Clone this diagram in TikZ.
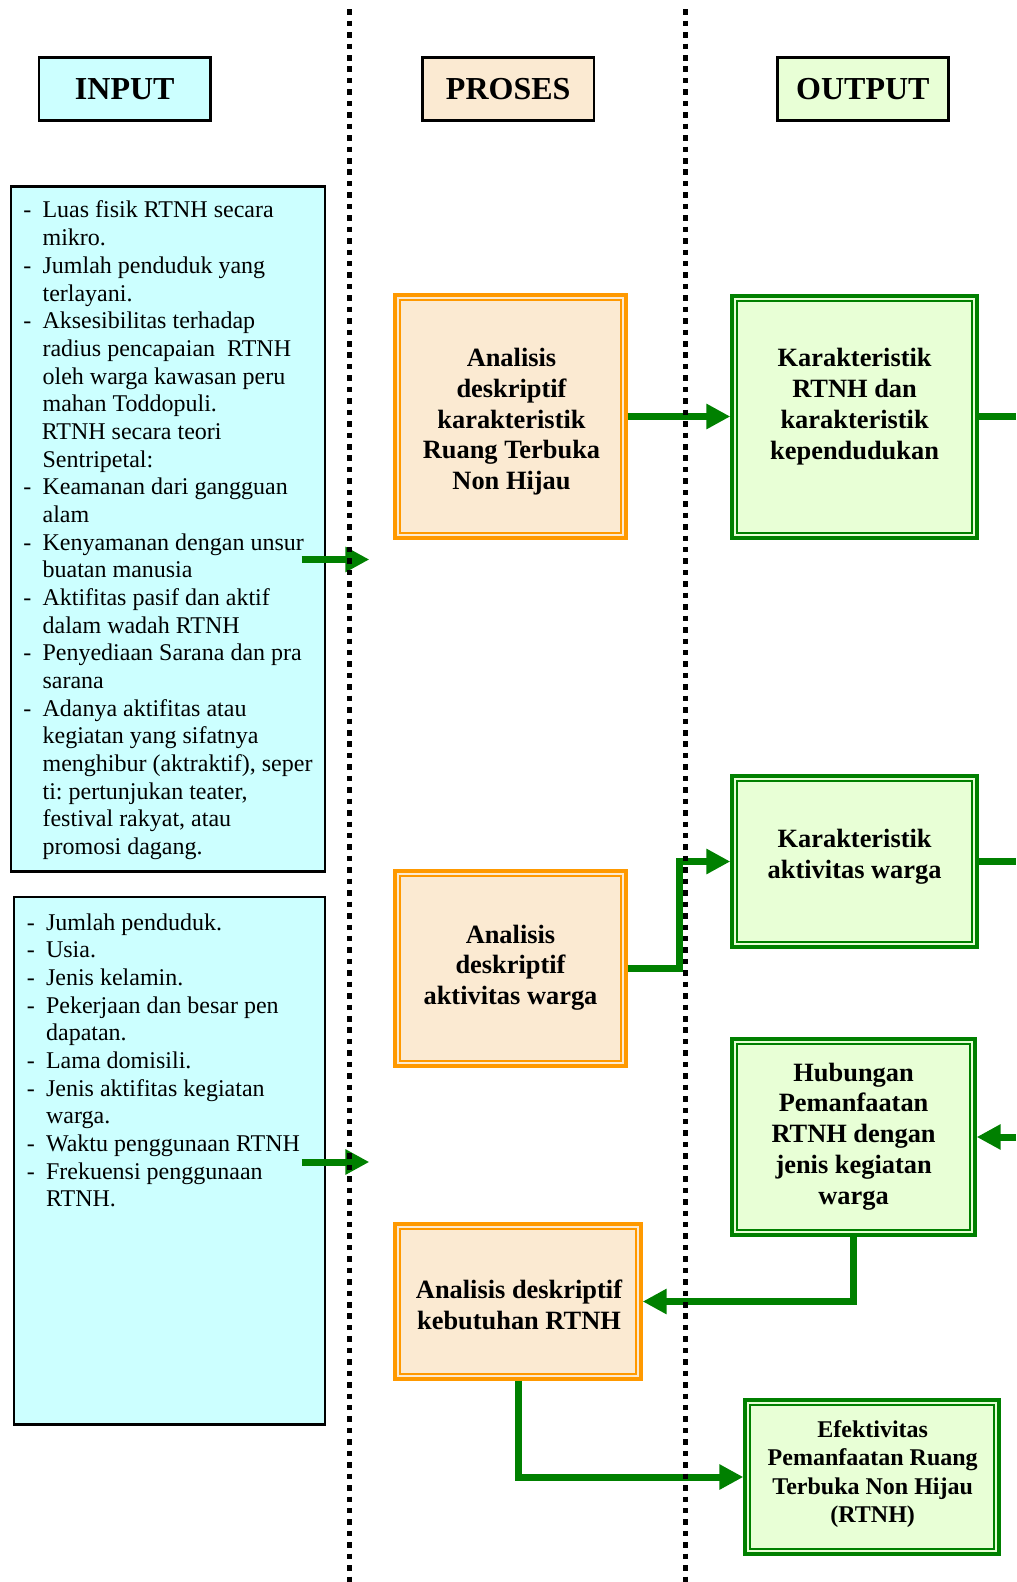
\documentclass[tikz,border=0pt]{standalone}
\usepackage{fontspec}
\setmainfont{Liberation Serif}
\usetikzlibrary{arrows.meta}
\definecolor{incyan}{HTML}{CCFFFF}
\definecolor{prfill}{HTML}{FBEAD2}
\definecolor{outfill}{HTML}{E8FFD6}
\definecolor{dgreen}{HTML}{008000}
\definecolor{orng}{HTML}{FF9900}
\newcommand\dl{\makebox[9.6pt][l]{-}}
\newcommand\ind{\hspace*{9.6pt}}
\frenchspacing
\begin{document}
\begin{tikzpicture}[x=0.5pt,y=-0.5pt,
 hdr/.style={draw=black,line width=1.35pt,minimum height=31.5pt,minimum width=85.65pt,inner sep=0pt,font=\fontsize{16}{19}\selectfont\bfseries},
 inbox/.style={draw=black,line width=1.35pt,fill=incyan,inner sep=0pt},
 prbox/.style={draw=orng,line width=1.7pt,fill=prfill,inner sep=0pt},
 outbox/.style={draw=dgreen,line width=1.7pt,fill=outfill,inner sep=0pt},
 btxt/.style={align=center,inner sep=0pt,font=\fontsize{13.2}{15.4}\selectfont\bfseries},
 stxt/.style={align=center,inner sep=0pt,font=\fontsize{12}{14.1}\selectfont\bfseries},
 ltxt/.style={anchor=base west,inner sep=0pt,font=\fontsize{12}{13.84}\selectfont},
 flow/.style={draw=dgreen,line width=3.5pt,-{Triangle[length=12pt,width=12pt]}},
 flowline/.style={draw=dgreen,line width=3.5pt},
 sep/.style={draw=black,line width=2.75pt,dash pattern=on 2.75pt off 2.97pt}
]
\useasboundingbox (0,0) rectangle (1016,1582);

% headers
\node[hdr,fill=incyan] (hin) at (124.75,89) {INPUT};
\node[hdr,fill=prfill] (hpr) at (508.2,89) {PROSES};
\node[hdr,fill=outfill] (hout) at (862.9,89) {OUTPUT};

% input boxes
\node[inbox,minimum width=157pt,minimum height=342.5pt] (in1) at (168,529) {};
\node[inbox,minimum width=155.5pt,minimum height=263.75pt] (in2) at (169.5,1160.75) {};

\node[ltxt] (in1t) at (23,218) {\begin{tabular}[t]{@{}l@{}}
\dl Luas fisik RTNH secara\\
\ind mikro.\\
\dl Jumlah penduduk yang\\
\ind terlayani.\\
\dl Aksesibilitas terhadap\\
\ind radius pencapaian~ RTNH\\
\ind oleh warga kawasan peru\\
\ind mahan Toddopuli.\\
\hspace*{9.2pt}RTNH secara teori\\
\ind Sentripetal:\\
\dl Keamanan dari gangguan\\
\ind alam\\
\dl Kenyamanan dengan unsur\\
\ind buatan manusia\\
\dl Aktifitas pasif dan aktif\\
\ind dalam wadah RTNH\\
\dl Penyediaan Sarana dan pra\\
\ind sarana\\
\dl Adanya aktifitas atau\\
\ind kegiatan yang sifatnya\\
\ind menghibur (aktraktif), seper\\
\ind ti: pertunjukan teater,\\
\ind festival rakyat, atau\\
\ind promosi dagang.
\end{tabular}};

\node[ltxt] (in2t) at (26.5,930) {\begin{tabular}[t]{@{}l@{}}
\dl Jumlah penduduk.\\
\dl Usia.\\
\dl Jenis kelamin.\\
\dl Pekerjaan dan besar pen\\
\ind dapatan.\\
\dl Lama domisili.\\
\dl Jenis aktifitas kegiatan\\
\ind warga.\\
\dl Waktu penggunaan RTNH\\
\dl Frekuensi penggunaan\\
\ind RTNH.
\end{tabular}};

% process boxes
\node[prbox,minimum width=115.5pt,minimum height=121.5pt] (p1) at (510.5,416.5) {};
\node[prbox,minimum width=115.5pt,minimum height=97.5pt] (p2) at (510.5,968.5) {};
\node[prbox,minimum width=123pt,minimum height=77.5pt] (p3) at (518,1301.5) {};
% output boxes
\node[outbox,minimum width=122.5pt,minimum height=121pt] (o1) at (854.5,417) {};
\node[outbox,minimum width=122.5pt,minimum height=85.5pt] (o2) at (854.5,861.5) {};
\node[outbox,minimum width=121.5pt,minimum height=98pt] (o3) at (853.5,1137) {};
\node[outbox,minimum width=127pt,minimum height=77pt] (o4) at (872,1477) {};

% inner lines of double borders
\foreach \n/\c in {p1/orng,p2/orng,p3/orng,o1/dgreen,o2/dgreen,o3/dgreen,o4/dgreen}
  \draw[\c,line width=1.3pt] ([shift={(3.35pt,-3.35pt)}]\n.north west) rectangle ([shift={(-3.35pt,3.35pt)}]\n.south east);

% box texts
\node[btxt] (p1t) at (511.5,421.7) {Analisis\\deskriptif\\karakteristik\\Ruang Terbuka\\Non Hijau};
\node[btxt] (p2t) at (510.5,967.6) {Analisis\\deskriptif\\aktivitas warga};
\node[btxt] (p3t) at (519,1305) {Analisis deskriptif\\kebutuhan RTNH};
\node[btxt] (o1t) at (854.6,406.6) {Karakteristik\\RTNH dan\\karakteristik\\kependudukan};
\node[btxt] (o2t) at (854.6,856.6) {Karakteristik\\aktivitas warga};
\node[btxt] (o3t) at (853.6,1136.5) {Hubungan\\Pemanfaatan\\RTNH dengan\\jenis kegiatan\\warga};
\node[stxt] (o4t) at (872.7,1474) {Efektivitas\\Pemanfaatan Ruang\\Terbuka Non Hijau\\(RTNH)};

% connectors
\coordinate (a1s) at (301.7,559.5);
\coordinate (a1e) at (369.3,559.5);
\coordinate (a2s) at (301.7,1162);
\coordinate (a2e) at (369.3,1162);
\coordinate (b2) at (679.5,968.5);
\coordinate (e1) at (1016,417);
\coordinate (e2) at (1016,861.5);
\coordinate (e3) at (1016,1137);
\draw[flow] (a1s) -- (a1e);
\draw[flow] (a2s) -- (a2e);
\draw[flow] (p1.east) -- (p1.east -| o1.west);
\draw[flowline] (o1.east) -- (e1);
\draw[flow] (p2.east) -- (b2) |- (o2.west);
\draw[flowline] (o2.east) -- (e2);
\draw[flow] (e3) -- (o3.east);
\draw[flow] (o3.south) |- (p3.east);
\draw[flow] (p3.south) |- (o4.west);

% separators
\coordinate (s1a) at (349.3,9.3);
\coordinate (s1b) at (349.3,1582);
\coordinate (s2a) at (685.3,9.3);
\coordinate (s2b) at (685.3,1582);
\draw[sep] (s1a) -- (s1b);
\draw[sep] (s2a) -- (s2b);
\end{tikzpicture}
\end{document}
